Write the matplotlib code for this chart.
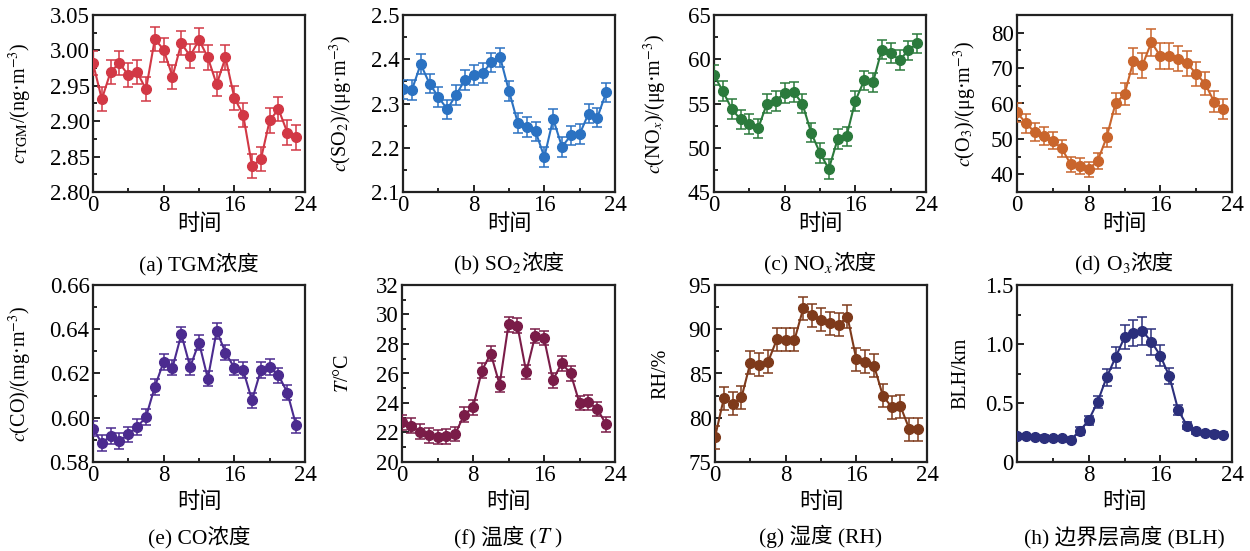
import matplotlib
matplotlib.use('Agg')
import matplotlib.pyplot as plt
from matplotlib.ticker import MultipleLocator

plt.rcParams['font.family'] = ['Liberation Serif', 'Noto Sans CJK SC']
plt.rcParams['mathtext.fontset'] = 'stix'
FS = 14.5
FS_TICK = 16.5
FS_CAP = 15.5
FS_XLAB = 16
plt.rcParams['font.size'] = FS

hours = list(range(24))

tgm = [2.982, 2.931, 2.970, 2.982, 2.965, 2.969, 2.945, 3.016, 3.001, 2.963, 3.010, 2.992,
       3.015, 2.990, 2.952, 2.990, 2.933, 2.909, 2.837, 2.846, 2.901, 2.917, 2.884, 2.877]
tgm_err = [0.017] * 24

so2 = [2.332, 2.330, 2.389, 2.345, 2.315, 2.287, 2.319, 2.353, 2.364, 2.369, 2.393, 2.404,
       2.328, 2.256, 2.247, 2.237, 2.179, 2.265, 2.202, 2.228, 2.231, 2.277, 2.268, 2.325]
so2_err = [0.022] * 24

nox = [58.2, 56.4, 54.4, 53.2, 52.7, 52.2, 55.0, 55.3, 56.2, 56.3, 55.0, 51.7,
       49.4, 47.6, 51.0, 51.3, 55.3, 57.6, 57.4, 61.1, 60.7, 59.9, 61.0, 61.8]
nox_err = [1.1] * 24

o3 = [57.5, 54.4, 51.9, 50.9, 49.5, 47.3, 42.8, 42.4, 41.4, 43.8, 50.4, 60.1,
      62.6, 72.0, 70.8, 77.3, 73.4, 73.4, 72.7, 71.3, 68.4, 65.6, 60.5, 58.5]
o3_err = [2.6, 2.6, 2.5, 2.5, 2.4, 2.4, 2.2, 2.2, 2.1, 2.2, 2.6, 3.0,
          3.1, 3.6, 3.5, 3.8, 3.6, 3.6, 3.6, 3.5, 3.4, 3.2, 3.0, 2.9]

co = [0.5951, 0.5886, 0.5918, 0.5894, 0.5925, 0.5958, 0.6004, 0.6140, 0.6253, 0.6227, 0.6377, 0.6230,
      0.6340, 0.6177, 0.6393, 0.6294, 0.6226, 0.6215, 0.6079, 0.6215, 0.6230, 0.6192, 0.6114, 0.5965]
co_err = [0.0035] * 24

temp = [22.7, 22.45, 22.05, 21.8, 21.7, 21.75, 21.9, 23.2, 23.7, 26.2, 27.35, 25.25,
        29.33, 29.25, 26.1, 28.55, 28.4, 25.55, 26.7, 26.0, 24.0, 24.05, 23.6, 22.55]
temp_err = [0.5] * 24

rh = [77.8, 82.2, 81.6, 82.3, 86.2, 86.0, 86.3, 88.85, 88.8, 88.8, 92.4, 91.6,
      91.05, 90.7, 90.5, 91.4, 86.6, 86.3, 85.9, 82.5, 81.2, 81.3, 78.7, 78.7]
rh_err = [1.3] * 24

blh = [0.221, 0.218, 0.212, 0.207, 0.204, 0.204, 0.190, 0.263, 0.354, 0.510, 0.717, 0.887,
       1.057, 1.096, 1.110, 1.020, 0.901, 0.728, 0.439, 0.306, 0.261, 0.246, 0.241, 0.232]
blh_err = [0.02, 0.02, 0.02, 0.02, 0.02, 0.02, 0.02, 0.03, 0.04, 0.05, 0.07, 0.09,
           0.10, 0.11, 0.12, 0.11, 0.09, 0.07, 0.04, 0.03, 0.02, 0.02, 0.02, 0.02]

x_ticks = [0, 8, 16, 24]
x_ticklabels = ['0', '8', '16', '24']
x_ticklabels_h = ['', '8', '16', '24']

yt_a = [2.80, 2.85, 2.90, 2.95, 3.00, 3.05]
ytl_a = ['2.80', '2.85', '2.90', '2.95', '3.00', '3.05']
yt_b = [2.1, 2.2, 2.3, 2.4, 2.5]
ytl_b = ['2.1', '2.2', '2.3', '2.4', '2.5']
yt_c = [45, 50, 55, 60, 65]
ytl_c = ['45', '50', '55', '60', '65']
yt_d = [40, 50, 60, 70, 80]
ytl_d = ['40', '50', '60', '70', '80']
yt_e = [0.58, 0.60, 0.62, 0.64, 0.66]
ytl_e = ['0.58', '0.60', '0.62', '0.64', '0.66']
yt_f = [20, 22, 24, 26, 28, 30, 32]
ytl_f = ['20', '22', '24', '26', '28', '30', '32']
yt_g = [75, 80, 85, 90, 95]
ytl_g = ['75', '80', '85', '90', '95']
yt_h = [0, 0.5, 1.0, 1.5]
ytl_h = ['0', '0.5', '1.0', '1.5']

W, H = 1250, 551
fig = plt.figure(figsize=(W / 100, H / 100), dpi=100)

panels = [
    dict(y=tgm, e=tgm_err, c='#d23845', ylim=(2.80, 3.05), yt=yt_a, ytl=ytl_a, ymin=0.025,
         box=(93, 15, 305, 192), ylab=r'$c_{\mathrm{TGM}}$/(ng·m$^{-3}$)', ylx=20,
         cap=['(a) TGM浓度'], xtl=x_ticklabels),
    dict(y=so2, e=so2_err, c='#2b72c2', ylim=(2.1, 2.5), yt=yt_b, ytl=ytl_b, ymin=0.05,
         box=(403, 15, 615, 192), ylab=r'$c$(SO$_2$)/(μg·m$^{-3}$)', ylx=341,
         cap=['(b)', ' SO$_2$', '浓度'], xtl=x_ticklabels),
    dict(y=nox, e=nox_err, c='#2b7a3c', ylim=(45, 65), yt=yt_c, ytl=ytl_c, ymin=2.5,
         box=(714, 15, 926, 192), ylab=r'$c$(NO$_x$)/(μg·m$^{-3}$)', ylx=655,
         cap=['(c)', ' NO$_x$', '浓度'], xtl=x_ticklabels),
    dict(y=o3, e=o3_err, c='#c9652c', ylim=(35, 85), yt=yt_d, ytl=ytl_d, ymin=5,
         box=(1017, 15, 1232, 192), ylab=r'$c$(O$_3$)/(μg·m$^{-3}$)', ylx=965,
         cap=['(d)', ' O$_3$', '浓度'], xtl=x_ticklabels),
    dict(y=co, e=co_err, c='#4b2b8f', ylim=(0.58, 0.66), yt=yt_e, ytl=ytl_e, ymin=0.01,
         box=(93, 285, 305, 462), ylab=r'$c$(CO)/(mg·m$^{-3}$)', ylx=20,
         cap=['(e) CO浓度'], xtl=x_ticklabels),
    dict(y=temp, e=temp_err, c='#7a1c48', ylim=(20, 32), yt=yt_f, ytl=ytl_f, ymin=1,
         box=(402, 285, 615, 462), ylab=r'$T$/°C', ylx=344,
         cap=['(f) 温度 (', '$T$ )'], xtl=x_ticklabels),
    dict(y=rh, e=rh_err, c='#7e3a1b', ylim=(75, 95), yt=yt_g, ytl=ytl_g, ymin=2.5,
         box=(715, 285, 927, 462), ylab='RH/%', ylx=661,
         cap=['(g) 湿度 (RH)'], xtl=x_ticklabels),
    dict(y=blh, e=blh_err, c='#2b2f7c', ylim=(0, 1.5), yt=yt_h, ytl=ytl_h, ymin=0.25,
         box=(1017, 285, 1232, 462), ylab='BLH/km', ylx=961,
         cap=['(h) 边界层高度 (BLH)'], xtl=x_ticklabels_h),
]

row_xlabel_y = {15: 225, 285: 503}
row_cap_y = {15: 270, 285: 543}

fig.canvas.draw()
renderer = fig.canvas.get_renderer()


def place_segments(segs, xc, y_px):
    texts = [fig.text(0, 1 - y_px / H, s, ha='left', va='baseline', fontsize=FS_CAP) for s in segs]
    widths = [t.get_window_extent(renderer).width for t in texts]
    x = xc - sum(widths) / 2
    for t, w in zip(texts, widths):
        t.set_x(x / W)
        x += w


for p in panels:
    l, t, r, b = p['box']
    ax = fig.add_axes([l / W, 1 - b / H, (r - l) / W, (b - t) / H])
    ax.errorbar(hours, p['y'], yerr=p['e'], color=p['c'], ecolor=p['c'], elinewidth=1.1,
                capsize=3.5, capthick=1.1, marker='o', markersize=7, lw=1.5, zorder=3)
    ax.set_xlim(0, 24)
    ax.set_ylim(*p['ylim'])
    ax.set_xticks(x_ticks)
    ax.set_xticklabels(p['xtl'])
    ax.xaxis.set_minor_locator(MultipleLocator(4))
    ax.set_yticks(p['yt'])
    ax.set_yticklabels(p['ytl'])
    ax.yaxis.set_minor_locator(MultipleLocator(p['ymin']))
    ax.tick_params(which='both', direction='in', top=False, right=False, labelsize=FS_TICK,
                   width=1.2, pad=2.5)
    ax.tick_params(which='major', length=5)
    ax.tick_params(which='minor', length=3)
    for s in ax.spines.values():
        s.set_linewidth(1.6)
        s.set_color('#222222')
    xc = (l + r) / 2
    fig.text(xc / W, 1 - row_xlabel_y[t] / H, '时间', ha='center', va='center', fontsize=FS_XLAB)
    fig.text(p['ylx'] / W, 1 - ((t + b) / 2) / H, p['ylab'], rotation=90,
             ha='center', va='center', fontsize=FS)
    place_segments(p['cap'], xc, row_cap_y[t])

fig.savefig('out.png', dpi=100)
